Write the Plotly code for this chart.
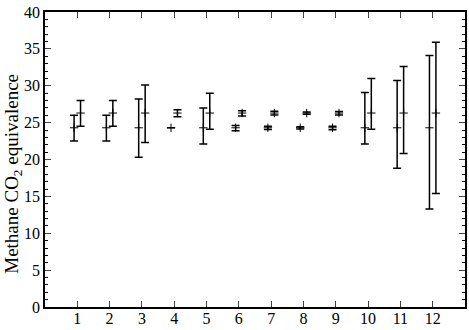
import plotly.graph_objects as go

months = [1, 2, 3, 4, 5, 6, 7, 8, 9, 10, 11, 12]
series_a = [24.3, 24.3, 24.3, 24.3, 24.3, 24.3, 24.3, 24.3, 24.3, 24.3, 24.3, 24.3]
err_a_plus = [1.7, 1.7, 3.9, 0.0, 2.7, 0.3, 0.22, 0.15, 0.22, 4.8, 6.4, 9.8]
err_a_minus = [1.8, 1.8, 4.0, 0.0, 2.2, 0.4, 0.22, 0.15, 0.25, 2.2, 5.5, 11.0]
series_b = [26.3, 26.3, 26.3, 26.3, 26.3, 26.3, 26.3, 26.3, 26.3, 26.3, 26.3, 26.3]
err_b_plus = [1.7, 1.7, 3.8, 0.45, 2.7, 0.3, 0.25, 0.15, 0.22, 4.7, 6.3, 9.6]
err_b_minus = [1.8, 1.8, 4.0, 0.5, 2.2, 0.4, 0.25, 0.15, 0.25, 2.2, 5.5, 10.9]
y_title = "Methane CO<sub>2</sub> equivalence"
offset = 0.1

fig = go.Figure()
for vals, ep, em, off in [(series_a, err_a_plus, err_a_minus, -offset),
                          (series_b, err_b_plus, err_b_minus, offset)]:
    fig.add_trace(go.Scatter(
        x=[m + off for m in months], y=vals, mode="markers",
        marker=dict(symbol="cross-thin", size=6, line=dict(width=1, color="black"), color="black"),
        error_y=dict(type="data", symmetric=False, array=ep, arrayminus=em, visible=True,
                     color="black", thickness=1.5, width=4),
        showlegend=False,
    ))

font = "Liberation Serif, Times New Roman, serif"
fig.update_layout(
    width=469, height=330,
    margin=dict(l=45, r=4, t=12, b=23),
    paper_bgcolor="white", plot_bgcolor="white",
    font=dict(family=font, size=16, color="black"),
)
fig.add_annotation(
    text=y_title, textangle=-90, xref="paper", yref="paper",
    x=-0.075, y=0.45, xanchor="center", yanchor="middle",
    showarrow=False, font=dict(family=font, size=19, color="black"),
)
fig.update_xaxes(
    range=[0, 13], tickvals=months, ticks="inside", ticklen=6, tickwidth=1.2,
    showline=True, linewidth=1.5, linecolor="black", mirror="ticks",
    showgrid=False, zeroline=False, tickfont=dict(size=16), automargin=False,
    ticklabelstandoff=-4,
)
fig.update_yaxes(
    range=[0, 40], dtick=5, ticks="inside", ticklen=6, tickwidth=1.2,
    minor=dict(dtick=1, ticks="inside", ticklen=3, tickwidth=1, tickcolor="black"),
    showline=True, linewidth=1.5, linecolor="black", mirror="ticks",
    showgrid=False, zeroline=False, tickfont=dict(size=16), automargin=False,
)
fig.write_html("out.html")
